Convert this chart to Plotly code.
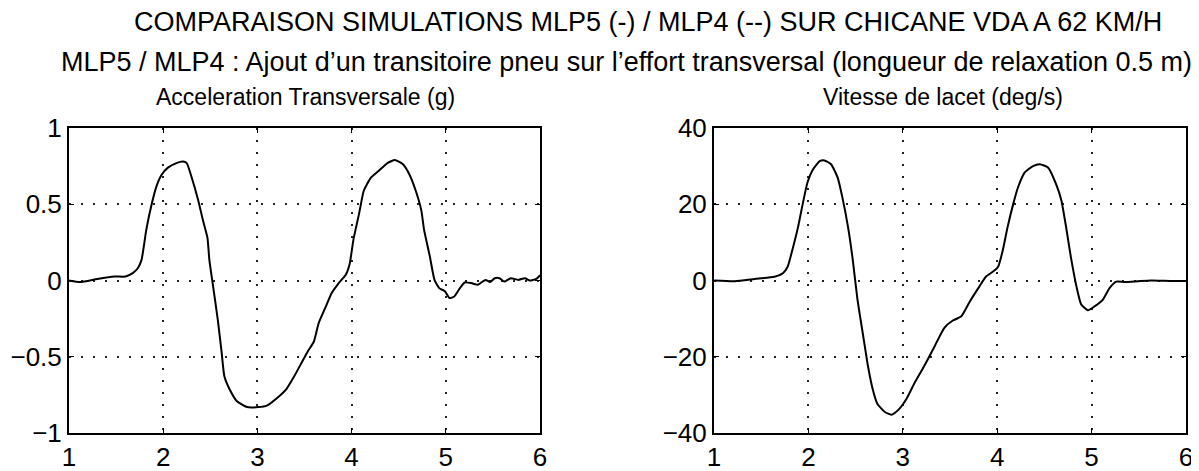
import plotly.graph_objects as go

# ---- data ----
t_acc = [1.00, 1.12, 1.30, 1.48, 1.60, 1.68, 1.73, 1.77, 1.82, 1.87, 1.93, 1.98, 2.05, 2.14, 2.21,
         2.25, 2.30, 2.37, 2.42, 2.47, 2.49, 2.53, 2.58, 2.62, 2.65, 2.71, 2.78, 2.89, 3.01, 3.10,
         3.19, 3.31, 3.38, 3.46, 3.53, 3.60, 3.65, 3.72, 3.79, 3.86, 3.94, 3.98, 4.02, 4.08, 4.13,
         4.20, 4.29, 4.38, 4.46, 4.54, 4.61, 4.68, 4.74, 4.77, 4.83, 4.88, 4.93, 4.99, 5.04, 5.09,
         5.15, 5.20, 5.27, 5.34, 5.42, 5.47, 5.52, 5.57, 5.62, 5.69, 5.77, 5.84, 5.89, 5.96, 6.00]
acc = [0.00, -0.01, 0.01, 0.026, 0.026, 0.05, 0.08, 0.135, 0.33, 0.48, 0.62, 0.69, 0.74, 0.77, 0.78,
       0.77, 0.68, 0.53, 0.40, 0.28, 0.135, -0.04, -0.26, -0.47, -0.63, -0.72, -0.79, -0.83, -0.83, -0.82,
       -0.78, -0.71, -0.64, -0.55, -0.47, -0.40, -0.28, -0.18, -0.08, -0.02, 0.04, 0.11, 0.27, 0.44, 0.59,
       0.67, 0.72, 0.77, 0.79, 0.765, 0.70, 0.59, 0.46, 0.33, 0.16, 0.004, -0.05, -0.07, -0.115, -0.105,
       -0.05, -0.013, -0.017, -0.028, 0.004, -0.01, 0.015, 0.015, -0.007, 0.015, 0.004, 0.015, 0.00, 0.01, 0.035]

t_yaw = [1.00, 1.22, 1.43, 1.64, 1.73, 1.78, 1.83, 1.89, 1.94, 1.99, 2.05, 2.12, 2.17, 2.24, 2.31,
         2.36, 2.42, 2.47, 2.52, 2.58, 2.63, 2.68, 2.73, 2.81, 2.88, 2.95, 3.04, 3.12, 3.23, 3.34,
         3.44, 3.53, 3.62, 3.71, 3.80, 3.88, 3.97, 4.01, 4.06, 4.11, 4.17, 4.22, 4.29, 4.38, 4.45,
         4.54, 4.63, 4.68, 4.73, 4.78, 4.84, 4.89, 4.96, 5.03, 5.12, 5.19, 5.26, 5.35, 5.49, 5.63,
         5.84, 6.00]
yaw = [0.0, -0.2, 0.4, 1.0, 1.9, 3.6, 8.0, 14.0, 20.1, 25.7, 29.2, 31.3, 31.5, 30.5, 27.0,
       21.8, 14.0, 5.4, -5.0, -14.5, -22.3, -28.4, -32.3, -34.5, -35.2, -34.0, -31.0, -27.1, -22.3, -17.1,
       -12.4, -10.5, -9.4, -5.5, -2.0, 1.0, 2.6, 3.6, 8.0, 14.0, 20.1, 24.4, 28.3, 30.0, 30.5,
       29.6, 24.9, 21.0, 14.0, 6.2, -1.6, -6.3, -7.8, -6.8, -5.0, -2.0, -0.3, -0.4, -0.2, 0.0,
       -0.1, -0.1]

x_ticks = [1, 2, 3, 4, 5, 6]
acc_ticks = [-1, -0.5, 0, 0.5, 1]
yaw_ticks = [-40, -20, 0, 20, 40]

main_title = "COMPARAISON SIMULATIONS MLP5 (-) / MLP4 (--) SUR CHICANE VDA A 62 KM/H"
sub_title = "MLP5 / MLP4 : Ajout d’un transitoire pneu sur l’effort transversal (longueur de relaxation 0.5 m)"
left_title = "Acceleration Transversale (g)"
right_title = "Vitesse de lacet (deg/s)"

# ---- figure ----
# The page body has an 8px margin, so the figure is laid out in page pixels minus 8.
OFF = 8
W, H = 1199 - OFF, 471 - OFF
FONT = "Liberation Sans, Arial, Helvetica, sans-serif"

def fx(px):
    return (px - OFF) / W

def fy(py):
    return 1 - (py - OFF) / H

fig = go.Figure()
fig.add_trace(go.Scatter(x=t_acc, y=acc, mode="lines", line=dict(color="black", width=2, shape="spline", smoothing=0.5),
                         xaxis="x", yaxis="y", showlegend=False, hoverinfo="skip"))
fig.add_trace(go.Scatter(x=t_yaw, y=yaw, mode="lines", line=dict(color="black", width=2, shape="spline", smoothing=0.5),
                         xaxis="x2", yaxis="y2", showlegend=False, hoverinfo="skip"))

common = dict(showline=True, linecolor="black", linewidth=2, mirror="ticks",
              ticks="inside", ticklen=5, tickwidth=1, tickcolor="black",
              showgrid=True, gridcolor="#222222", gridwidth=2, griddash="2px,10px",
              zeroline=False, automargin=False,
              tickfont=dict(family=FONT, size=26, color="black"))

ydom = [fy(433), fy(128)]
fig.update_layout(
    width=W, height=H, autosize=False,
    margin=dict(l=0, r=0, t=0, b=0, pad=0),
    paper_bgcolor="white", plot_bgcolor="white",
    xaxis=dict(domain=[fx(69), fx(540)], range=[1, 6], tickvals=x_ticks, anchor="y", **common),
    yaxis=dict(domain=ydom, range=[-1, 1], tickvals=acc_ticks, anchor="x", **common),
    xaxis2=dict(domain=[fx(714), fx(1186)], range=[1, 6], tickvals=x_ticks, anchor="y2", **common),
    yaxis2=dict(domain=ydom, range=[-40, 40], tickvals=yaw_ticks, anchor="x2", **common),
)

def ann(text, xpx, ypx, size):
    fig.add_annotation(text=text, x=fx(xpx), y=fy(ypx), xref="paper", yref="paper",
                       xanchor="center", yanchor="middle", showarrow=False,
                       font=dict(family=FONT, size=size, color="black"))

ann(main_title, 648, 22, 27)
ann(sub_title, 626, 62, 27)
ann(left_title, 305, 97, 23)
ann(right_title, 943, 97, 23)

fig.write_html("out.html")
